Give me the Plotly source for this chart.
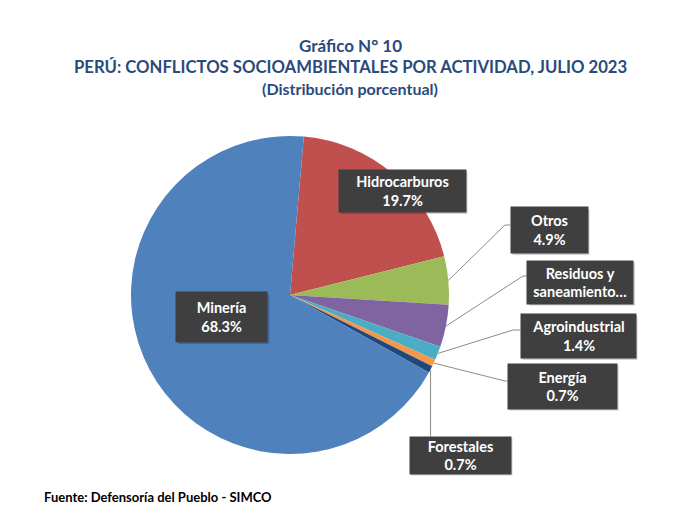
import math
import plotly.graph_objects as go

# ---- data ----
categories = ["Hidrocarburos", "Otros", "Residuos y<br>saneamiento…", "Agroindustrial", "Energía", "Forestales", "Minería"]
values = [19.7, 4.9, 4.3, 1.4, 0.7, 0.7, 68.3]
label_texts = ["Hidrocarburos<br>19.7%", "Otros<br>4.9%", "Residuos y<br>saneamiento…", "Agroindustrial<br>1.4%",
               "Energía<br>0.7%", "Forestales<br>0.7%", "Minería<br>68.3%"]
colors = ["#C0504D", "#9BBB59", "#8064A2", "#4BACC6", "#F79646", "#1F497D", "#4F81BD"]

W, H = 700, 523
CX, CY, R = 290, 295, 159
ROT = 5

# label boxes: center x, center y, width, height (px)
boxes = [
    (402, 191, 127, 42),
    (549, 230, 77, 46),
    (580, 282, 106, 43),
    (578, 336, 115, 44),
    (562, 386, 109, 45),
    (460, 455, 101, 37),
    (222, 317, 91, 50),
]
# leader elbows (px); None = no leader line
elbows = [None, (505, 225), (523, 276), (513, 330), (505, 381), "vertical", None]

def px(x):
    return x / W

def py(y):
    return 1 - y / H

fig = go.Figure()
fig.add_trace(go.Pie(
    labels=categories, values=values, sort=False, direction="clockwise", rotation=ROT,
    marker=dict(colors=colors, line=dict(width=0)), textinfo="none", hoverinfo="label+percent",
    showlegend=False,
    domain=dict(x=[px(CX - R), px(CX + R)], y=[py(CY + R), py(CY - R)]),
))

shapes = []
annotations = []
total = sum(values)
cum = 0.0
for i, v in enumerate(values):
    ang = ROT + 360 * (cum + v / 2) / total
    cum += v
    sx = CX + R * math.sin(math.radians(ang))
    sy = CY - R * math.cos(math.radians(ang))
    bx, by, bw, bh = boxes[i]
    e = elbows[i]
    if e == "vertical":
        path = f"M {px(sx)},{py(sy)} L {px(sx)},{py(by - bh / 2)}"
        shapes.append(dict(type="path", xref="paper", yref="paper", path=path,
                           line=dict(color="#8C8C8C", width=1)))
    elif e is not None:
        ex, ey = e
        path = f"M {px(sx)},{py(sy)} L {px(ex)},{py(ey)} L {px(bx - bw / 2)},{py(ey)}"
        shapes.append(dict(type="path", xref="paper", yref="paper", path=path,
                           line=dict(color="#8C8C8C", width=1)))
    # shadow
    shapes.append(dict(type="rect", xref="paper", yref="paper",
                       x0=px(bx - bw / 2 + 2), x1=px(bx + bw / 2 + 2),
                       y0=py(by + bh / 2 + 2), y1=py(by - bh / 2 + 2),
                       fillcolor="rgba(0,0,0,0.18)", line=dict(width=0), layer="above"))
    annotations.append(dict(
        x=px(bx), y=py(by), xref="paper", yref="paper", xanchor="center", yanchor="middle",
        text=f"<b>{label_texts[i]}</b>", showarrow=False, width=bw, height=bh, align="center",
        valign="middle", bgcolor="#3F3F3F", borderpad=0,
        font=dict(family="Lato", size=14.5, color="white"),
    ))

title_color = "#2A4A7C"
annotations += [
    dict(x=0.5, y=py(45), xref="paper", yref="paper", text="<b>Gráfico N° 10</b>", showarrow=False,
         font=dict(family="Lato", size=17, color=title_color), xanchor="center", yanchor="middle"),
    dict(x=0.5, y=py(67), xref="paper", yref="paper",
         text="<b>PERÚ: CONFLICTOS SOCIOAMBIENTALES POR ACTIVIDAD, JULIO 2023</b>", showarrow=False,
         font=dict(family="Lato", size=16.7, color=title_color), xanchor="center", yanchor="middle"),
    dict(x=0.5, y=py(88), xref="paper", yref="paper", text="<b>(Distribución porcentual)</b>", showarrow=False,
         font=dict(family="Lato", size=16, color=title_color), xanchor="center", yanchor="middle"),
    dict(x=px(42), y=py(497), xref="paper", yref="paper", text="<b>Fuente: Defensoría del Pueblo - SIMCO</b>",
         showarrow=False, font=dict(family="Lato", size=13, color="black"), xanchor="left", yanchor="middle"),
]

fig.update_layout(
    width=W, height=H, margin=dict(l=0, r=0, t=0, b=0),
    paper_bgcolor="white", plot_bgcolor="white",
    shapes=shapes, annotations=annotations,
)
fig.write_html("out.html", config={"displayModeBar": False},
               post_script="document.body.style.margin='0';")
